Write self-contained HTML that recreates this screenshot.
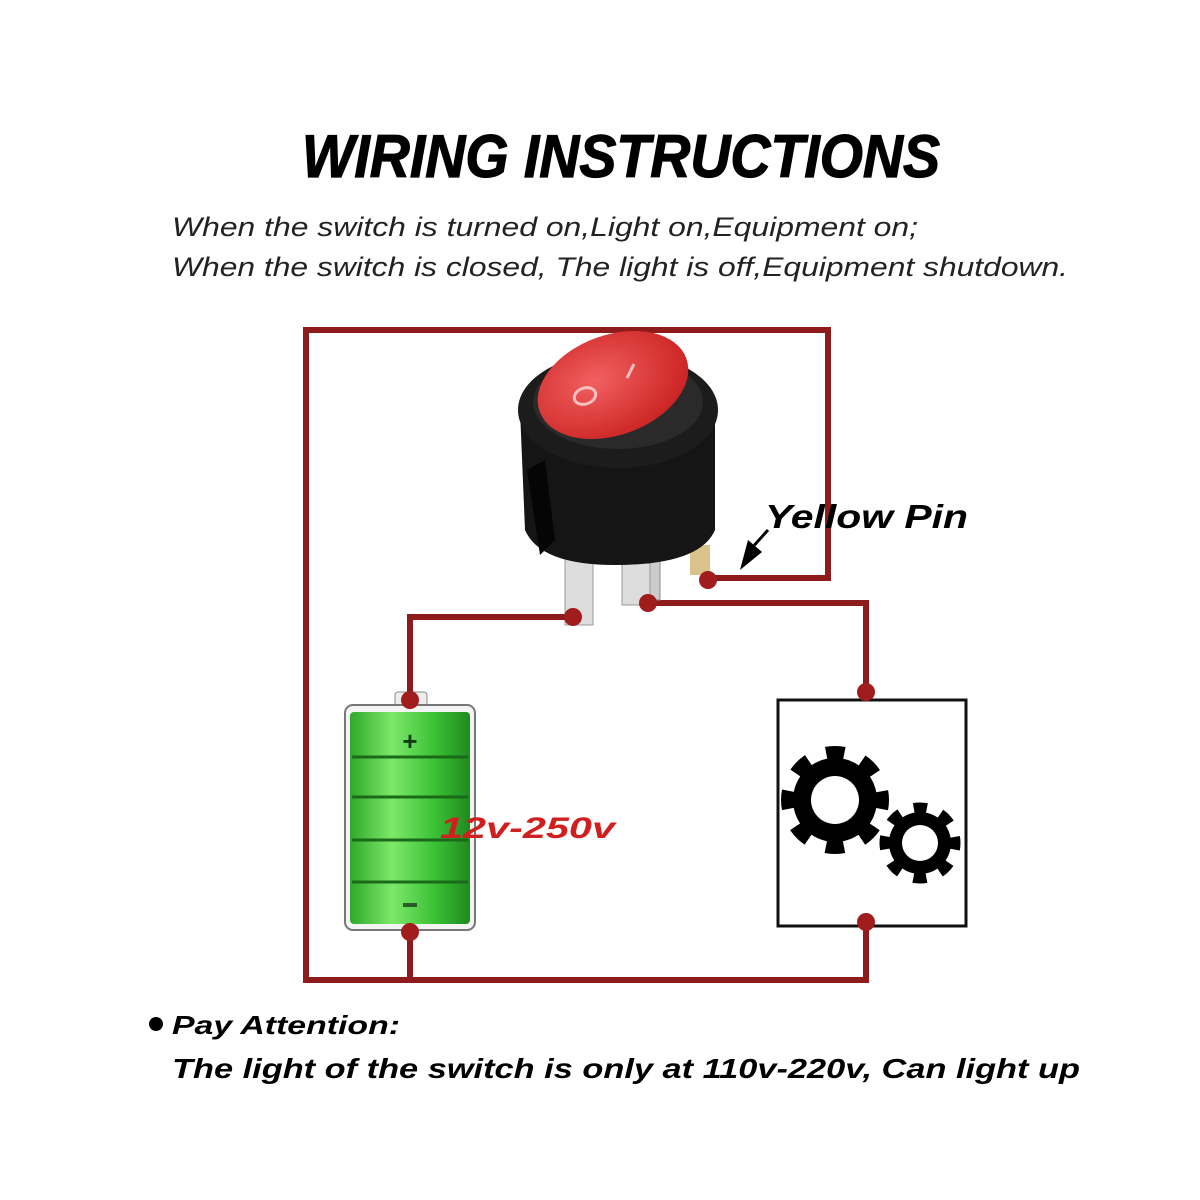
<!DOCTYPE html>
<html><head><meta charset="utf-8"><style>
html,body{margin:0;padding:0;background:#fff;}
svg{display:block}
</style></head><body>
<svg width="1200" height="1200" viewBox="0 0 1200 1200" xmlns="http://www.w3.org/2000/svg">
<defs>
<linearGradient id="g" x1="0" x2="1">
<stop offset="0" stop-color="#2fa82a"/><stop offset="0.35" stop-color="#7de86a"/><stop offset="0.7" stop-color="#3cc236"/><stop offset="1" stop-color="#1f8a1e"/>
</linearGradient>
<radialGradient id="r" cx="0.4" cy="0.4" r="0.7">
<stop offset="0" stop-color="#f26060"/><stop offset="1" stop-color="#c81e1e"/>
</radialGradient>
</defs>
<text x="302" y="177" font-family="Liberation Sans, sans-serif" font-weight="bold" font-style="italic" font-size="60" stroke="#000" stroke-width="1.2" textLength="638" lengthAdjust="spacingAndGlyphs">WIRING INSTRUCTIONS</text>
<text x="172" y="236" font-family="Liberation Sans, sans-serif" font-style="italic" font-size="27" fill="#222" textLength="746" lengthAdjust="spacingAndGlyphs">When the switch is turned on,Light on,Equipment on;</text>
<text x="172" y="276" font-family="Liberation Sans, sans-serif" font-style="italic" font-size="27" fill="#222" textLength="896" lengthAdjust="spacingAndGlyphs">When the switch is closed, The light is off,Equipment shutdown.</text>

<g stroke="#8e1b1b" stroke-width="6" fill="none">
<polyline points="708,578 828,578 828,330 306,330 306,980 866,980 866,922"/>
<line x1="410" y1="932" x2="410" y2="980"/>
<polyline points="648,603 866,603 866,692"/>
<polyline points="573,617 410,617 410,700"/>
</g>

<!-- switch -->
<rect x="645" y="540" width="15" height="60" fill="#ccc" stroke="#888"/>
<rect x="565" y="555" width="28" height="70" fill="#ddd" stroke="#999"/>
<rect x="622" y="550" width="28" height="55" fill="#ddd" stroke="#999"/>
<rect x="690" y="545" width="20" height="30" fill="#d9c38a"/>
<path d="M520,410 L715,410 L715,530 Q700,565 615,565 Q540,565 525,530 Z" fill="#151515"/>
<ellipse cx="618" cy="410" rx="100" ry="58" fill="#1c1c1c"/>
<ellipse cx="618" cy="402" rx="85" ry="47" fill="#2a2a2a"/>
<ellipse cx="613" cy="385" rx="78" ry="50" transform="rotate(-20 613 385)" fill="url(#r)"/>
<ellipse cx="585" cy="396" rx="11" ry="8" transform="rotate(-20 585 396)" fill="none" stroke="#f8c0c0" stroke-width="3"/>
<line x1="627" y1="378" x2="634" y2="364" stroke="#f8c0c0" stroke-width="3"/>
<path d="M527,470 L545,460 L555,540 L540,555 Z" fill="#050505"/>

<!-- arrow -->
<line x1="768" y1="530" x2="750" y2="550" stroke="#000" stroke-width="3"/>
<polygon points="740,570 748,540 762,552" fill="#000"/>
<text x="765" y="528" font-family="Liberation Sans, sans-serif" font-weight="bold" font-style="italic" font-size="33" textLength="203" lengthAdjust="spacingAndGlyphs">Yellow Pin</text>

<!-- battery -->
<rect x="395" y="692" width="32" height="16" rx="3" fill="#eee" stroke="#888"/>
<rect x="345" y="705" width="130" height="225" rx="8" fill="#f4f4f4" stroke="#777" stroke-width="2"/>
<rect x="350" y="712" width="120" height="212" rx="4" fill="url(#g)"/>
<g stroke="#1a6a1a" stroke-width="3">
<line x1="352" y1="757" x2="468" y2="757"/><line x1="352" y1="797" x2="468" y2="797"/>
<line x1="352" y1="840" x2="468" y2="840"/><line x1="352" y1="882" x2="468" y2="882"/>
</g>
<text x="410" y="750" text-anchor="middle" font-family="Liberation Sans, sans-serif" font-weight="bold" font-size="26" fill="#153d15">+</text>
<rect x="403" y="903" width="14" height="4" fill="#2a5a2a"/>
<text x="440" y="838" font-family="Liberation Sans, sans-serif" font-weight="bold" font-style="italic" font-size="30" fill="#d11f1f" textLength="175" lengthAdjust="spacingAndGlyphs">12v-250v</text>

<!-- equipment box -->
<rect x="778" y="700" width="188" height="226" fill="#fff" stroke="#111" stroke-width="3"/>
<g>
<circle cx="835" cy="800" r="42" fill="#000"/>
<circle cx="835" cy="800" r="47" fill="none" stroke="#000" stroke-width="14" stroke-dasharray="18 18.9" stroke-dashoffset="9"/>
<circle cx="835" cy="800" r="24" fill="#fff"/>
<circle cx="920" cy="843" r="31" fill="#000"/>
<circle cx="920" cy="843" r="35" fill="none" stroke="#000" stroke-width="11" stroke-dasharray="13 14.5" stroke-dashoffset="6.5"/>
<circle cx="920" cy="843" r="18" fill="#fff"/>
</g>

<g fill="#a11c1c">
<circle cx="708" cy="580" r="9"/><circle cx="648" cy="603" r="9"/><circle cx="573" cy="617" r="9"/>
<circle cx="410" cy="700" r="9"/><circle cx="410" cy="932" r="9"/>
<circle cx="866" cy="692" r="9"/><circle cx="866" cy="922" r="9"/>
</g>

<circle cx="156" cy="1024" r="7" fill="#000"/>
<text x="172" y="1034" font-family="Liberation Sans, sans-serif" font-weight="bold" font-style="italic" font-size="26" textLength="228" lengthAdjust="spacingAndGlyphs">Pay Attention:</text>
<text x="172" y="1078" font-family="Liberation Sans, sans-serif" font-weight="bold" font-style="italic" font-size="28" textLength="908" lengthAdjust="spacingAndGlyphs">The light of the switch is only at 110v-220v, Can light up</text>
</svg>
</body></html>
